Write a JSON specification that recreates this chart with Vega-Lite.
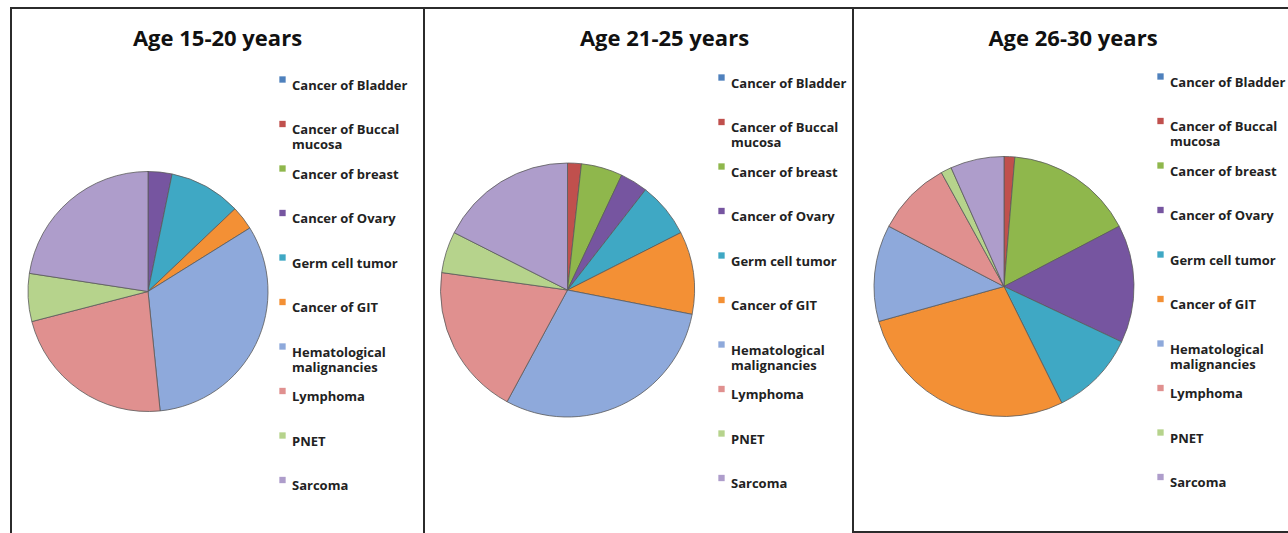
{
  "$schema": "https://vega.github.io/schema/vega-lite/v6.json",
  "padding": {"left": 10, "top": 7, "right": 0, "bottom": 0},
  "background": "white",
  "datasets": {
    "cases": [
      {"panel": "Age 15-20 years", "k": 1, "category": "Cancer of Bladder", "value": 0},
      {"panel": "Age 15-20 years", "k": 2, "category": "Cancer of Buccal mucosa", "value": 0},
      {"panel": "Age 15-20 years", "k": 3, "category": "Cancer of breast", "value": 0},
      {"panel": "Age 15-20 years", "k": 4, "category": "Cancer of Ovary", "value": 1},
      {"panel": "Age 15-20 years", "k": 5, "category": "Germ cell tumor", "value": 3},
      {"panel": "Age 15-20 years", "k": 6, "category": "Cancer of GIT", "value": 1},
      {"panel": "Age 15-20 years", "k": 7, "category": "Hematological malignancies", "value": 10},
      {"panel": "Age 15-20 years", "k": 8, "category": "Lymphoma", "value": 7},
      {"panel": "Age 15-20 years", "k": 9, "category": "PNET", "value": 2},
      {"panel": "Age 15-20 years", "k": 10, "category": "Sarcoma", "value": 7},
      {"panel": "Age 21-25 years", "k": 1, "category": "Cancer of Bladder", "value": 0},
      {"panel": "Age 21-25 years", "k": 2, "category": "Cancer of Buccal mucosa", "value": 1},
      {"panel": "Age 21-25 years", "k": 3, "category": "Cancer of breast", "value": 3},
      {"panel": "Age 21-25 years", "k": 4, "category": "Cancer of Ovary", "value": 2},
      {"panel": "Age 21-25 years", "k": 5, "category": "Germ cell tumor", "value": 4},
      {"panel": "Age 21-25 years", "k": 6, "category": "Cancer of GIT", "value": 6},
      {"panel": "Age 21-25 years", "k": 7, "category": "Hematological malignancies", "value": 17},
      {"panel": "Age 21-25 years", "k": 8, "category": "Lymphoma", "value": 11},
      {"panel": "Age 21-25 years", "k": 9, "category": "PNET", "value": 3},
      {"panel": "Age 21-25 years", "k": 10, "category": "Sarcoma", "value": 10},
      {"panel": "Age 26-30 years", "k": 1, "category": "Cancer of Bladder", "value": 0},
      {"panel": "Age 26-30 years", "k": 2, "category": "Cancer of Buccal mucosa", "value": 1},
      {"panel": "Age 26-30 years", "k": 3, "category": "Cancer of breast", "value": 12},
      {"panel": "Age 26-30 years", "k": 4, "category": "Cancer of Ovary", "value": 11},
      {"panel": "Age 26-30 years", "k": 5, "category": "Germ cell tumor", "value": 8},
      {"panel": "Age 26-30 years", "k": 6, "category": "Cancer of GIT", "value": 21},
      {"panel": "Age 26-30 years", "k": 7, "category": "Hematological malignancies", "value": 9},
      {"panel": "Age 26-30 years", "k": 8, "category": "Lymphoma", "value": 7},
      {"panel": "Age 26-30 years", "k": 9, "category": "PNET", "value": 1},
      {"panel": "Age 26-30 years", "k": 10, "category": "Sarcoma", "value": 5}
    ]
  },
  "data": {"name": "cases"},
  "spacing": 0,
  "bounds": "flush",
  "resolve": {"legend": {"color": "independent"}},
  "hconcat": [
    {
      "width": 413, "height": 530,
      "view": {"stroke": "#2b2b2b", "strokeWidth": 2},
      "title": {"text": "Age 15-20 years"},
      "transform": [{"filter": "datum.panel == 'Age 15-20 years'"}],
      "mark": {"type": "arc", "x": 137, "y": 283.5, "radius": 120, "stroke": "#5a5a5a", "strokeWidth": 0.8},
      "encoding": {
        "theta": {"field": "value", "type": "quantitative", "stack": true},
        "order": {"field": "k", "type": "quantitative"},
        "color": {"field": "category", "type": "nominal",
          "scale": {"domain": ["Cancer of Bladder", "Cancer of Buccal mucosa", "Cancer of breast", "Cancer of Ovary", "Germ cell tumor", "Cancer of GIT", "Hematological malignancies", "Lymphoma", "PNET", "Sarcoma"],
                    "range": ["#4F81BD", "#C0504D", "#8FB74C", "#7655A0", "#3FA8C4", "#F39035", "#8EA9DB", "#E0908F", "#B6D38C", "#AE9DCB"]},
          "legend": {"legendX": 265, "legendY": 65,
            "labelExpr": "datum.label == 'Cancer of Buccal mucosa' ? ['Cancer of Buccal', 'mucosa'] : datum.label == 'Hematological malignancies' ? ['Hematological', 'malignancies'] : datum.label",
            "encode": {"labels": {"update": {"lineHeight": {"value": 16}}}}}}
      }
    },
    {
      "width": 429, "height": 530,
      "view": {"stroke": "#2b2b2b", "strokeWidth": 2},
      "title": {"text": "Age 21-25 years", "dx": 26},
      "transform": [{"filter": "datum.panel == 'Age 21-25 years'"}],
      "mark": {"type": "arc", "x": 143.5, "y": 282, "radius": 127, "stroke": "#5a5a5a", "strokeWidth": 0.8},
      "encoding": {
        "theta": {"field": "value", "type": "quantitative", "stack": true},
        "order": {"field": "k", "type": "quantitative"},
        "color": {"field": "category", "type": "nominal",
          "scale": {"domain": ["Cancer of Bladder", "Cancer of Buccal mucosa", "Cancer of breast", "Cancer of Ovary", "Germ cell tumor", "Cancer of GIT", "Hematological malignancies", "Lymphoma", "PNET", "Sarcoma"],
                    "range": ["#4F81BD", "#C0504D", "#8FB74C", "#7655A0", "#3FA8C4", "#F39035", "#8EA9DB", "#E0908F", "#B6D38C", "#AE9DCB"]},
          "legend": {"legendX": 291, "legendY": 63,
            "labelExpr": "datum.label == 'Cancer of Buccal mucosa' ? ['Cancer of Buccal', 'mucosa'] : datum.label == 'Hematological malignancies' ? ['Hematological', 'malignancies'] : datum.label",
            "encode": {"labels": {"update": {"lineHeight": {"value": 16}}}}}}
      }
    },
    {
      "width": 440, "height": 524,
      "view": {"stroke": "#2b2b2b", "strokeWidth": 2},
      "title": {"text": "Age 26-30 years"},
      "transform": [{"filter": "datum.panel == 'Age 26-30 years'"}],
      "mark": {"type": "arc", "x": 151, "y": 278.5, "radius": 130, "stroke": "#5a5a5a", "strokeWidth": 0.8},
      "encoding": {
        "theta": {"field": "value", "type": "quantitative", "stack": true},
        "order": {"field": "k", "type": "quantitative"},
        "color": {"field": "category", "type": "nominal",
          "scale": {"domain": ["Cancer of Bladder", "Cancer of Buccal mucosa", "Cancer of breast", "Cancer of Ovary", "Germ cell tumor", "Cancer of GIT", "Hematological malignancies", "Lymphoma", "PNET", "Sarcoma"],
                    "range": ["#4F81BD", "#C0504D", "#8FB74C", "#7655A0", "#3FA8C4", "#F39035", "#8EA9DB", "#E0908F", "#B6D38C", "#AE9DCB"]},
          "legend": {"legendX": 301, "legendY": 62,
            "labelExpr": "datum.label == 'Cancer of Buccal mucosa' ? ['Cancer of Buccal', 'mucosa'] : datum.label == 'Hematological malignancies' ? ['Hematological', 'malignancies'] : datum.label",
            "encode": {"labels": {"update": {"lineHeight": {"value": 16}}}}}}
      }
    }
  ],
  "config": {
    "view": {"stroke": "#2b2b2b", "strokeWidth": 2},
    "font": "Open Sans",
    "title": {"font": "Open Sans", "fontSize": 22, "fontWeight": "bold", "color": "#111111", "offset": -43, "baseline": "alphabetic", "anchor": "middle"},
    "legend": {
      "title": null, "orient": "none", "padding": 0,
      "symbolType": "square", "symbolSize": 40, "symbolStrokeWidth": 0,
      "labelFont": "Open Sans", "labelFontSize": 13, "labelFontWeight": "bold", "labelColor": "#222222",
      "labelLimit": 250, "labelOffset": 3, "labelBaseline": "top",
      "rowPadding": 9.5, "gridAlign": "all"
    }
  }
}
